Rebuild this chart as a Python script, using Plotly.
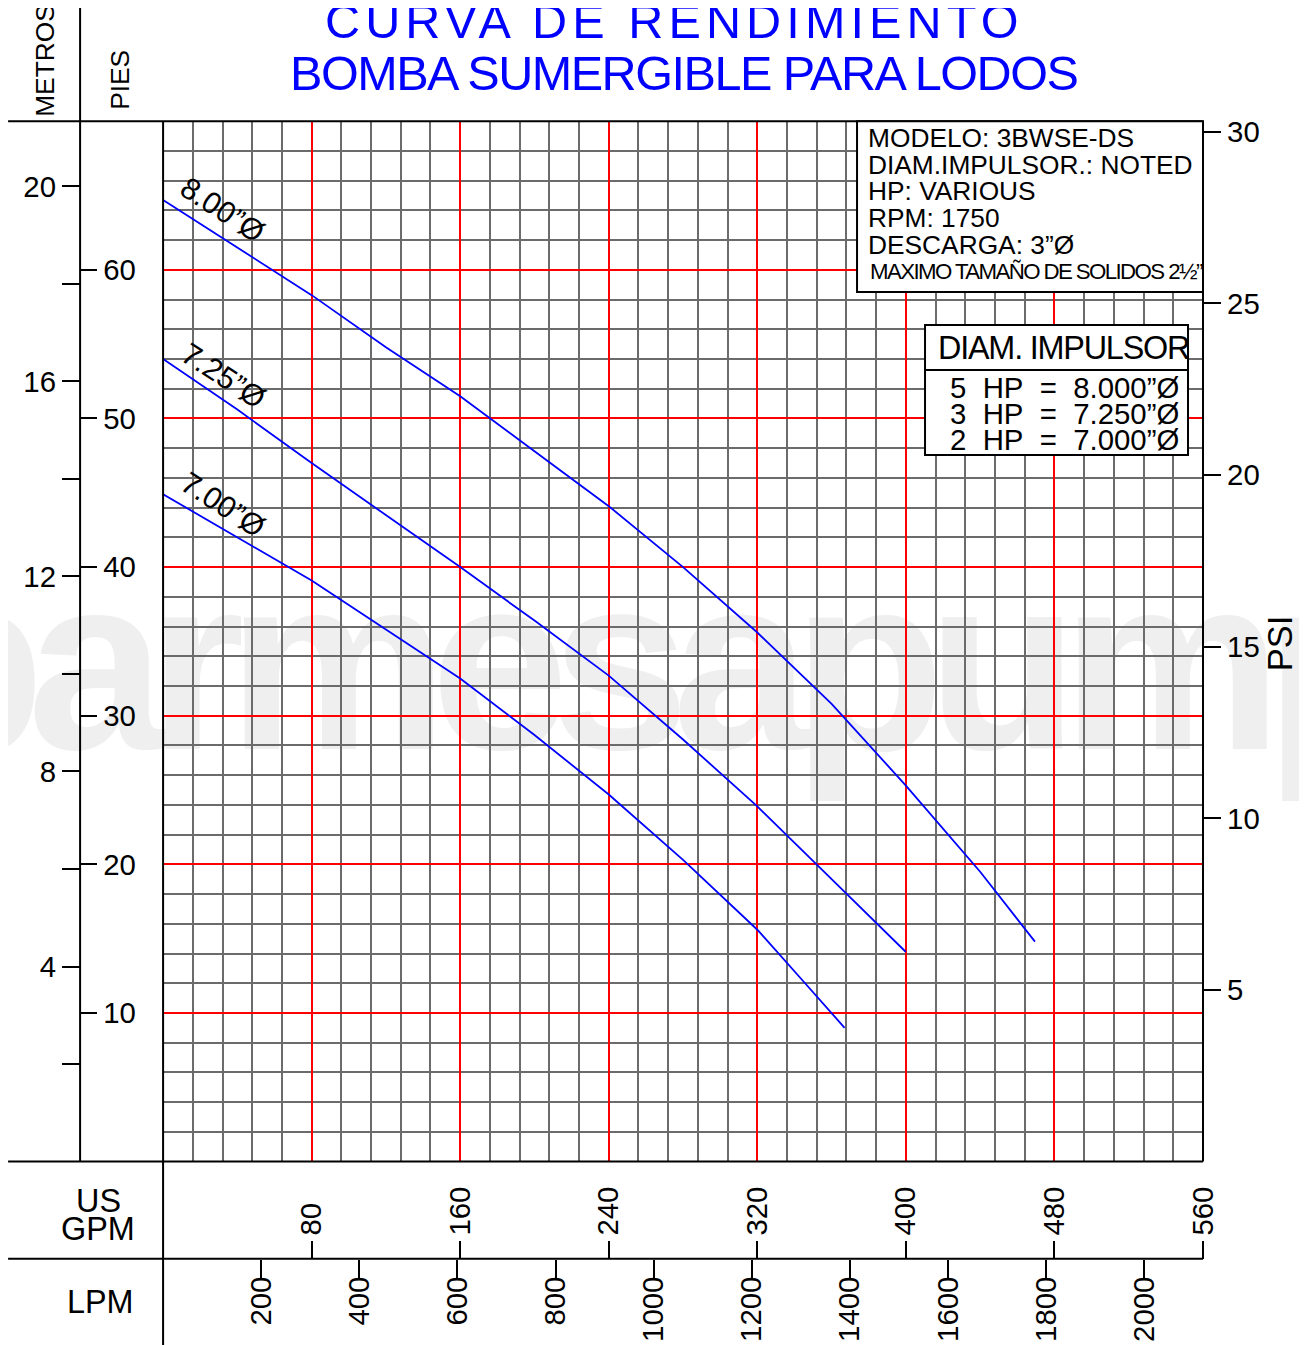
import plotly.graph_objects as go

# The photographed page (figure + 8px body margin) is mapped onto the picture as
#   pic_x = KX * page_x ,  pic_y = KY * page_y + CY   (measured from earlier renders)
# so all positions below are given in picture pixels and converted.
PAGE_MARGIN = 8
KX, KY, CY = 1307.0 / 1323.0, 0.98984, 5.75
VY_SCALE, VY_SHIFT = 1.005, 0.6
FW, FH = 1315, 1356
S = 1.0 / KX

# ---------------- data ----------------
gpm_800 = [0, 40, 80, 120, 160, 200, 240, 280, 320, 360, 400, 440, 469.5]
ft_800 = [64.7, 61.5, 58.3, 54.8, 51.5, 47.8, 44.1, 40.0, 35.6, 30.8, 25.3, 19.5, 14.8]

gpm_725 = [0, 40, 80, 120, 160, 200, 240, 280, 320, 360, 400]
ft_725 = [54.0, 50.6, 47.0, 43.5, 40.0, 36.4, 32.7, 28.4, 23.9, 19.0, 14.1]

gpm_700 = [0, 40, 80, 120, 160, 200, 240, 280, 320, 345, 367]
ft_700 = [44.9, 42.0, 39.1, 35.8, 32.5, 28.7, 24.7, 20.3, 15.6, 12.1, 9.0]

curve_labels = ["8.00\u201d\u00d8", "7.25\u201d\u00d8", "7.00\u201d\u00d8"]

gpm_ticks = [80, 160, 240, 320, 400, 480, 560]
lpm_ticks = [200, 400, 600, 800, 1000, 1200, 1400, 1600, 1800, 2000]
ft_ticks = [10, 20, 30, 40, 50, 60]
m_ticks = [4, 8, 12, 16, 20]
m_minor = [2, 6, 10, 14, 18]
psi_ticks = [5, 10, 15, 20, 25, 30]

GPM_MAX, FT_MAX = 560, 70
GPM_TO_LPM = 3.78541
FT_PER_M = 3.28084
FT_PER_PSI = 2.31

title_1 = "CURVA DE RENDIMIENTO"
title_2 = "BOMBA SUMERGIBLE PARA LODOS"
info_lines = ["MODELO: 3BWSE-DS", "DIAM.IMPULSOR.: NOTED", "HP: VARIOUS",
              "RPM: 1750", "DESCARGA: 3\u201d\u00d8"]
solids_line = "MAXIMO TAMA\u00d1O DE SOLIDOS 2\u00bd\u201d"
imp_title = "DIAM. IMPULSOR"
imp_rows = ["5  HP  =  8.000\u201d\u00d8", "3  HP  =  7.250\u201d\u00d8", "2  HP  =  7.000\u201d\u00d8"]
watermark = "parmesapumps"

# ---------------- helpers (picture pixel -> paper fraction) ----------------
def px(p):
    return (p / KX - PAGE_MARGIN) / FW

def py(p):
    p = (p - VY_SHIFT) / VY_SCALE
    return 1 - ((p - CY) / KY - PAGE_MARGIN) / FH

def fs(v):
    return round(v * S, 2)

def spaced(t, ls):
    return '<span style="letter-spacing:%.1fpx">%s</span>' % (ls * S, t)

FONT = "Liberation Sans, Arial, sans-serif"
BLUE = "#0000ff"
X0, X1 = 163, 1203
YT, YB = 121.5, 1161
YAX = 1258

fig = go.Figure()

line_style = dict(color=BLUE, width=1.8)
for gx, gy in [(gpm_800, ft_800), (gpm_725, ft_725), (gpm_700, ft_700)]:
    fig.add_trace(go.Scatter(x=gx, y=gy, mode="lines", line=line_style,
                             hoverinfo="skip", showlegend=False))

# empty traces so the scale axes get drawn
fig.add_trace(go.Scatter(x=[], y=[], xaxis="x2", yaxis="y", showlegend=False))
fig.add_trace(go.Scatter(x=[], y=[], xaxis="x", yaxis="y2", showlegend=False))
fig.add_trace(go.Scatter(x=[], y=[], xaxis="x", yaxis="y3", showlegend=False))

tick_common = dict(ticks="outside", tickwidth=2, tickcolor="black",
                   showline=False, zeroline=False, fixedrange=True,
                   tickfont=dict(size=fs(29), family=FONT, color="black"))

fig.update_layout(
    width=FW, height=FH, autosize=False,
    margin=dict(l=0, r=0, t=0, b=0),
    paper_bgcolor="white", plot_bgcolor="rgba(0,0,0,0)",
    showlegend=False,
    font=dict(family=FONT, color="black"),
    xaxis=dict(domain=[px(X0), px(X1)], range=[0, GPM_MAX], anchor="free",
               position=py(YAX), side="top", tickmode="array", tickvals=gpm_ticks,
               ticklen=fs(17), tickangle=-90,
               showgrid=True, gridcolor="#ff0000", gridwidth=2,
               minor=dict(dtick=16, tick0=0, showgrid=True, gridcolor="#6b6b6b", gridwidth=2),
               **tick_common),
    xaxis2=dict(overlaying="x", range=[0, GPM_MAX * GPM_TO_LPM], anchor="free",
                position=py(YAX), side="bottom", tickmode="array", tickvals=lpm_ticks,
                ticklen=fs(18), tickangle=-90, ticklabelstandoff=-13,
                showgrid=False, **tick_common),
    yaxis=dict(domain=[py(YB), py(YT)], range=[0, FT_MAX], anchor="free",
               position=px(80), side="right", tickmode="array", tickvals=ft_ticks,
               ticklen=fs(16),
               showgrid=True, gridcolor="#ff0000", gridwidth=2,
               minor=dict(dtick=2, tick0=0, showgrid=True, gridcolor="#6b6b6b", gridwidth=2),
               **tick_common),
    yaxis2=dict(overlaying="y", range=[0, FT_MAX / FT_PER_M], anchor="free",
                position=px(80), side="left", tickmode="array", tickvals=m_ticks,
                ticklen=fs(18), showgrid=False,
                minor=dict(tickvals=m_minor, ticks="outside", ticklen=fs(18), tickwidth=2,
                           tickcolor="black", showgrid=False),
                **tick_common),
    yaxis3=dict(overlaying="y", range=[0, FT_MAX / FT_PER_PSI], anchor="free",
                position=px(X1), side="right", tickmode="array", tickvals=psi_ticks,
                ticklen=fs(17), showgrid=False, **tick_common),
)

# ---------------- frame lines & boxes ----------------
shapes = []

def hline(y, xa, xb, w=2):
    shapes.append(dict(type="line", xref="paper", yref="paper", x0=px(xa), x1=px(xb),
                       y0=py(y), y1=py(y), line=dict(color="black", width=w)))

def vline(x, ya, yb, w=2):
    shapes.append(dict(type="line", xref="paper", yref="paper", x0=px(x), x1=px(x),
                       y0=py(ya), y1=py(yb), line=dict(color="black", width=w)))

# watermark (below grid)
shapes.append(dict(type="rect", xref="paper", yref="paper", layer="below",
                   x0=px(15), x1=px(1398), y0=py(690), y1=py(590),
                   line=dict(width=0), fillcolor="rgba(0,0,0,0)",
                   label=dict(text=spaced(watermark, -17),
                              textposition="middle center",
                              font=dict(size=fs(245), color="#efefef", family=FONT,
                                        weight="bold"))))

hline(YT, 8, X1)
vline(80, 8, YB)
vline(X0, YT, 1345)
hline(YB, 8, X1)
hline(YAX, 8, X1)
vline(X1, YT, YB)

# info box
shapes.append(dict(type="rect", xref="paper", yref="paper", x0=px(857), x1=px(X1),
                   y0=py(292), y1=py(YT), line=dict(color="black", width=2), fillcolor="white"))
# impeller box
shapes.append(dict(type="rect", xref="paper", yref="paper", x0=px(925), x1=px(1188),
                   y0=py(455), y1=py(325), line=dict(color="black", width=2), fillcolor="white"))
hline(370, 925, 1188)

fig.update_layout(shapes=shapes)

# ---------------- text ----------------
ann = []

def text(x, y, t, size, color="black", xanchor="center", angle=0):
    ann.append(dict(x=px(x), y=py(y), xref="paper", yref="paper", text=t, showarrow=False,
                    xanchor=xanchor, yanchor="middle", textangle=angle,
                    font=dict(size=fs(size), family=FONT, color=color)))

text(674, 21, spaced(title_1, 5.0), 48, BLUE)
text(683, 73, spaced(title_2, -1.5), 48, BLUE)

text(45, 61, "METROS", 26, angle=-90)
text(120, 80, "PIES", 26, angle=-90)
text(98, 1200, "US", 32)
text(98, 1228, "GPM", 32)
text(100, 1301, "LPM", 32)
text(1280, 644, "PSI", 34, angle=-90)

for i, t in enumerate(info_lines):
    text(866, 138 + i * 26.8, t, 26, xanchor="left")
text(868, 272, spaced(solids_line, -1.6), 22, xanchor="left")

text(936, 348, spaced(imp_title, -1.2), 32, xanchor="left")
for i, t in enumerate(imp_rows):
    text(1064, 388 + i * 26, t.replace("  ", "\u00a0\u00a0"), 29)

for (cx, cy), t in zip([(222, 210), (223, 376), (223, 504)], curve_labels):
    text(cx, cy, t, 30, angle=33)

fig.update_layout(annotations=ann)

fig.write_html("out.html", config={"displayModeBar": False})
